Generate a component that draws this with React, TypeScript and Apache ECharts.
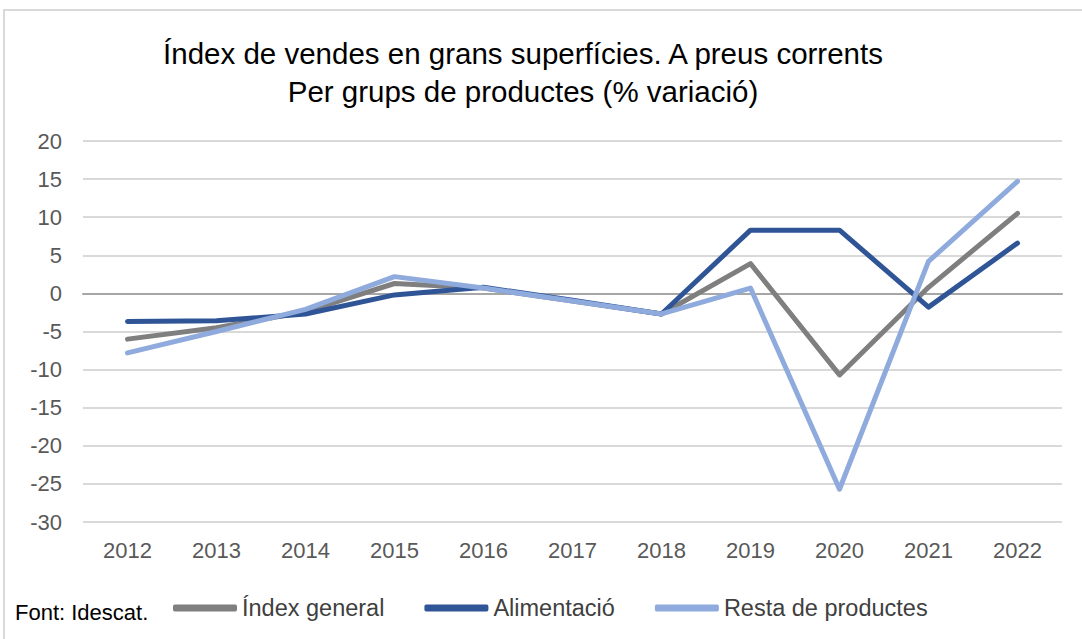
import React, { useEffect, useRef } from "react";
import * as echarts from "echarts";

const years = ["2012", "2013", "2014", "2015", "2016", "2017", "2018", "2019", "2020", "2021", "2022"];
const indexGeneral = [-6.0, -4.5, -2.4, 1.3, 0.7, -1.0, -2.7, 3.9, -10.7, 0.8, 10.5];
const alimentacio = [-3.7, -3.6, -2.7, -0.2, 0.8, -0.9, -2.7, 8.3, 8.3, -1.8, 6.6];
const restaProductes = [-7.8, -5.0, -2.1, 2.2, 0.7, -1.0, -2.7, 0.7, -25.7, 4.2, 14.7];
const seriesNames = ["Índex general", "Alimentació", "Resta de productes"];
const colors = ["#7F7F7F", "#2F5597", "#8FAADC"];
const titleLines = ["Índex de vendes en grans superfícies. A preus corrents", "Per grups de productes (% variació)"];
const sourceText = "Font: Idescat.";

export default function App() {
  const ref = useRef<HTMLDivElement>(null);
  useEffect(() => {
    if (!ref.current) return;
    const chart = echarts.init(ref.current, undefined, { renderer: "svg" });
    const font = "'Liberation Sans', Arial, sans-serif";
    const data = [indexGeneral, alimentacio, restaProductes];
    chart.setOption({
      animation: false,
      backgroundColor: "#fff",
      textStyle: { fontFamily: font },
      grid: { left: 83, right: 20, top: 141, bottom: 117 },
      xAxis: {
        type: "category",
        data: years,
        boundaryGap: true,
        axisLine: { show: true, onZero: true, lineStyle: { color: "#A6A6A6", width: 2 } },
        axisTick: { show: false },
        axisLabel: { color: "#595959", fontSize: 22, fontFamily: font, margin: 17 },
      },
      yAxis: {
        type: "value",
        min: -30,
        max: 20,
        interval: 5,
        axisLine: { show: false },
        axisTick: { show: false },
        axisLabel: { color: "#595959", fontSize: 22, fontFamily: font, margin: 21 },
        splitLine: { lineStyle: { color: "#D9D9D9", width: 2 } },
      },
      legend: {
        left: 168,
        top: 591,
        itemWidth: 64,
        itemHeight: 7,
        itemGap: 40,
        icon: "roundRect",
        textStyle: { color: "#404040", fontSize: 23.5, fontFamily: font },
        data: seriesNames,
      },
      graphic: [
        {
          type: "rect",
          shape: { x: 4, y: 10, width: 1100, height: 700 },
          style: { fill: "none", stroke: "#D9D9D9", lineWidth: 2 },
          silent: true,
        },
        {
          type: "text",
          x: 523,
          y: 53,
          style: {
            text: titleLines[0],
            textAlign: "center",
            textVerticalAlign: "middle",
            fontSize: 29.5,
            fontFamily: font,
            fill: "#000",
          },
        },
        {
          type: "text",
          x: 523,
          y: 91,
          style: {
            text: titleLines[1],
            textAlign: "center",
            textVerticalAlign: "middle",
            fontSize: 29.5,
            fontFamily: font,
            fill: "#000",
          },
        },
        {
          type: "text",
          x: 15,
          y: 612,
          style: {
            text: sourceText,
            textVerticalAlign: "middle",
            fontSize: 22,
            fontFamily: font,
            fill: "#000",
          },
        },
      ],
      series: seriesNames.map((name, i) => ({
        name,
        type: "line",
        data: data[i],
        symbol: "none",
        lineStyle: { color: colors[i], width: 5, cap: "round", join: "round" },
        itemStyle: { color: colors[i] },
        z: 3 + i,
      })),
    });
    return () => chart.dispose();
  }, []);
  return <div ref={ref} style={{ position: "fixed", left: 0, top: 0, width: 1082, height: 639 }} />;
}
